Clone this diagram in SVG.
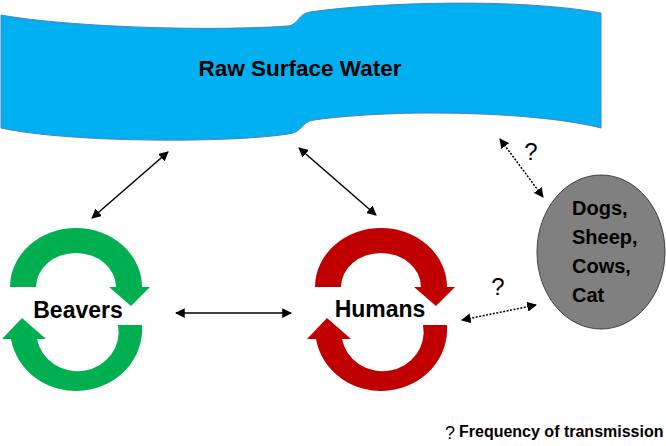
<svg xmlns="http://www.w3.org/2000/svg" width="666" height="446" viewBox="0 0 666 446">
<defs>
<style>
.lbl{font-family:"Liberation Sans",Arial,sans-serif;font-weight:bold;fill:#000}
.q{font-family:"Liberation Sans",Arial,sans-serif;fill:#000}
.conn{stroke:#000;stroke-width:1.5;fill:none}
.dot{stroke-dasharray:2 1.5}
</style>
<marker id="ah" viewBox="0 0 10 10" refX="9" refY="5" markerWidth="6.5" markerHeight="6.5" orient="auto-start-reverse" markerUnits="strokeWidth">
<path d="M0,0 L10,5 L0,10 Z" fill="#000"/>
</marker>
<path id="ringTop" d="M 10,287 A 66 59 0 0 1 142,287 L 150,287 L 131,306 L 109,287 L 116,287 A 40 34 0 0 0 36,287 Z"/>
<path id="ringBot" d="M 142,325 A 66 62 0 0 1 11,339 L 2,339 L 22,318 L 46,339 L 37,339 A 41 39 0 0 0 118,325 Z"/>
</defs>
<rect width="666" height="446" fill="#fff"/>

<g id="water">
<path d="M 1,15 C 60,26 200,32 288,26 C 298,25 298,14 310,12 C 380,2 520,-2 601,13 L 601,128 C 540,112 400,108 314,120 C 300,122 304,132 288,134 C 230,143 70,143 1,128 Z" fill="#00B0F0" stroke="#4F81BD" stroke-width="1"/>
<text class="lbl" x="300" y="76" font-size="22.5" text-anchor="middle">Raw Surface Water</text>
</g>

<g id="beavers">
<use href="#ringTop" fill="#00B050"/>
<use href="#ringBot" fill="#00B050"/>
<text class="lbl" x="78" y="318" font-size="23" text-anchor="middle">Beavers</text>
</g>

<g id="humans">
<g transform="translate(305 0)">
<use href="#ringTop" fill="#C00000"/>
<use href="#ringBot" fill="#C00000"/>
</g>
<text class="lbl" x="380" y="317" font-size="23" text-anchor="middle">Humans</text>
</g>

<g id="animals">
<ellipse cx="601" cy="252" rx="64" ry="77" fill="#808080" stroke="#404040" stroke-width="1"/>
<text class="lbl" font-size="20">
<tspan x="572" y="215">Dogs,</tspan>
<tspan x="572" y="244">Sheep,</tspan>
<tspan x="572" y="273">Cows,</tspan>
<tspan x="572" y="302">Cat</tspan>
</text>
</g>

<g id="connectors">
<line class="conn" x1="168" y1="152" x2="92" y2="218" marker-start="url(#ah)" marker-end="url(#ah)"/>
<line class="conn" x1="299" y1="148" x2="376" y2="215" marker-start="url(#ah)" marker-end="url(#ah)"/>
<line class="conn" x1="176" y1="313" x2="291" y2="313" marker-start="url(#ah)" marker-end="url(#ah)"/>
<line class="conn dot" x1="500" y1="139" x2="543" y2="197" marker-start="url(#ah)" marker-end="url(#ah)"/>
<line class="conn dot" x1="462" y1="320" x2="536" y2="305" marker-start="url(#ah)" marker-end="url(#ah)"/>
<text class="q" x="531" y="160" font-size="24" text-anchor="middle">?</text>
<text class="q" x="498" y="295" font-size="24" text-anchor="middle">?</text>
</g>

<g id="legend">
<text class="q" x="445" y="439" font-size="18">?</text>
<text class="lbl" x="459" y="437" font-size="16">Frequency of transmission</text>
</g>
</svg>
